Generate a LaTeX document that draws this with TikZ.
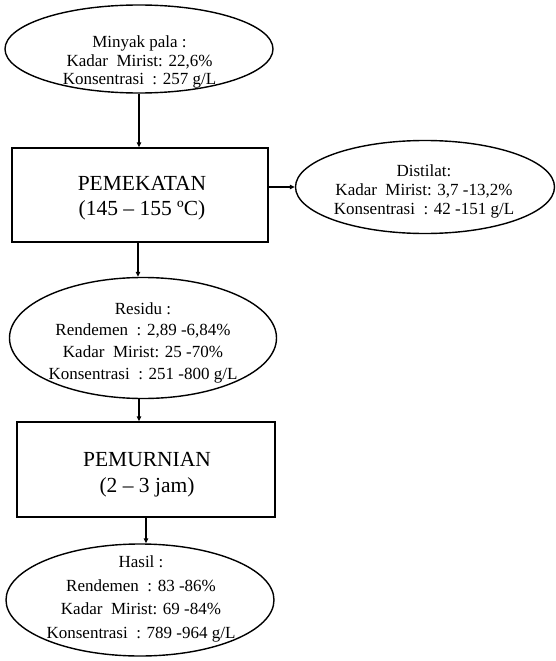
\documentclass[tikz,border=0pt]{standalone}
\usepackage{fontspec}
\setmainfont{Liberation Serif}
\usetikzlibrary{shapes.geometric,arrows.meta}
\tikzset{
  ell/.style={draw, ellipse, line width=1.4pt, inner sep=0pt},
  procbox/.style={draw, rectangle, line width=1.4pt, inner sep=0pt},
  arr/.style={line width=1.2pt, -{Triangle[length=5pt,width=4.5pt]}},
  etext/.style={align=center, inner sep=0pt},
  btext/.style={align=center, inner sep=0pt, font=\fontsize{21.5}{24.5}\selectfont}
}
\begin{document}
\begin{tikzpicture}[x=1pt,y=1pt]
\useasboundingbox (0,0) rectangle (556,-661);
% shapes
\node[ell, minimum width=268, minimum height=88] (e1) at (139,-49) {};
\node[procbox, minimum width=256, minimum height=94] (r1) at (140,-195) {};
\node[ell, minimum width=259, minimum height=93] (e4) at (425,-187) {};
\node[ell, minimum width=267, minimum height=121] (e2) at (143,-338) {};
\node[procbox, minimum width=258, minimum height=95] (r2) at (146,-469.5) {};
\node[ell, minimum width=268, minimum height=112] (e3) at (140,-600) {};
% texts
\node[etext, font=\fontsize{17}{18.6}\selectfont] (t1) at (139.5,-62) {Minyak pala :\\Kadar\ \ Mirist: 22,6\%\\Konsentrasi\ \ : 257 g/L};
\node[btext] (t2) at (142,-198) {PEMEKATAN\\(145 – 155 ºC)};
\node[etext, font=\fontsize{17}{19}\selectfont] (t4) at (424,-191) {Distilat:\\Kadar\ \ Mirist: 3,7 -13,2\%\\Konsentrasi\ \ : 42 -151 g/L};
\node[etext, font=\fontsize{17}{21.7}\selectfont] (t3) at (143,-342.5) {Residu :\\Rendemen\ \ : 2,89 -6,84\%\\Kadar\ \ Mirist: 25 -70\%\\Konsentrasi\ \ : 251 -800 g/L};
\node[btext, font=\fontsize{21.5}{26}\selectfont] (t5) at (147,-475) {PEMURNIAN\\(2 – 3 jam)};
\node[etext, font=\fontsize{17}{23.5}\selectfont] (t6) at (141,-599) {Hasil :\\Rendemen\ \ : 83 -86\%\\Kadar\ \ Mirist: 69 -84\%\\Konsentrasi\ \ : 789 -964 g/L};
% connectors
\draw[arr] (e1.south) -- (e1.south |- r1.north);
\draw[arr] (r1.east |- e4.west) -- (e4.west);
\draw[arr] ([xshift=-2pt]r1.south) -- ([xshift=-2pt]r1.south |- e2.north);
\draw[arr] ([xshift=-7pt]r2.north |- e2.south) -- ([xshift=-7pt]r2.north);
\draw[arr] (r2.south) -- (r2.south |- e3.north);
\end{tikzpicture}
\end{document}
